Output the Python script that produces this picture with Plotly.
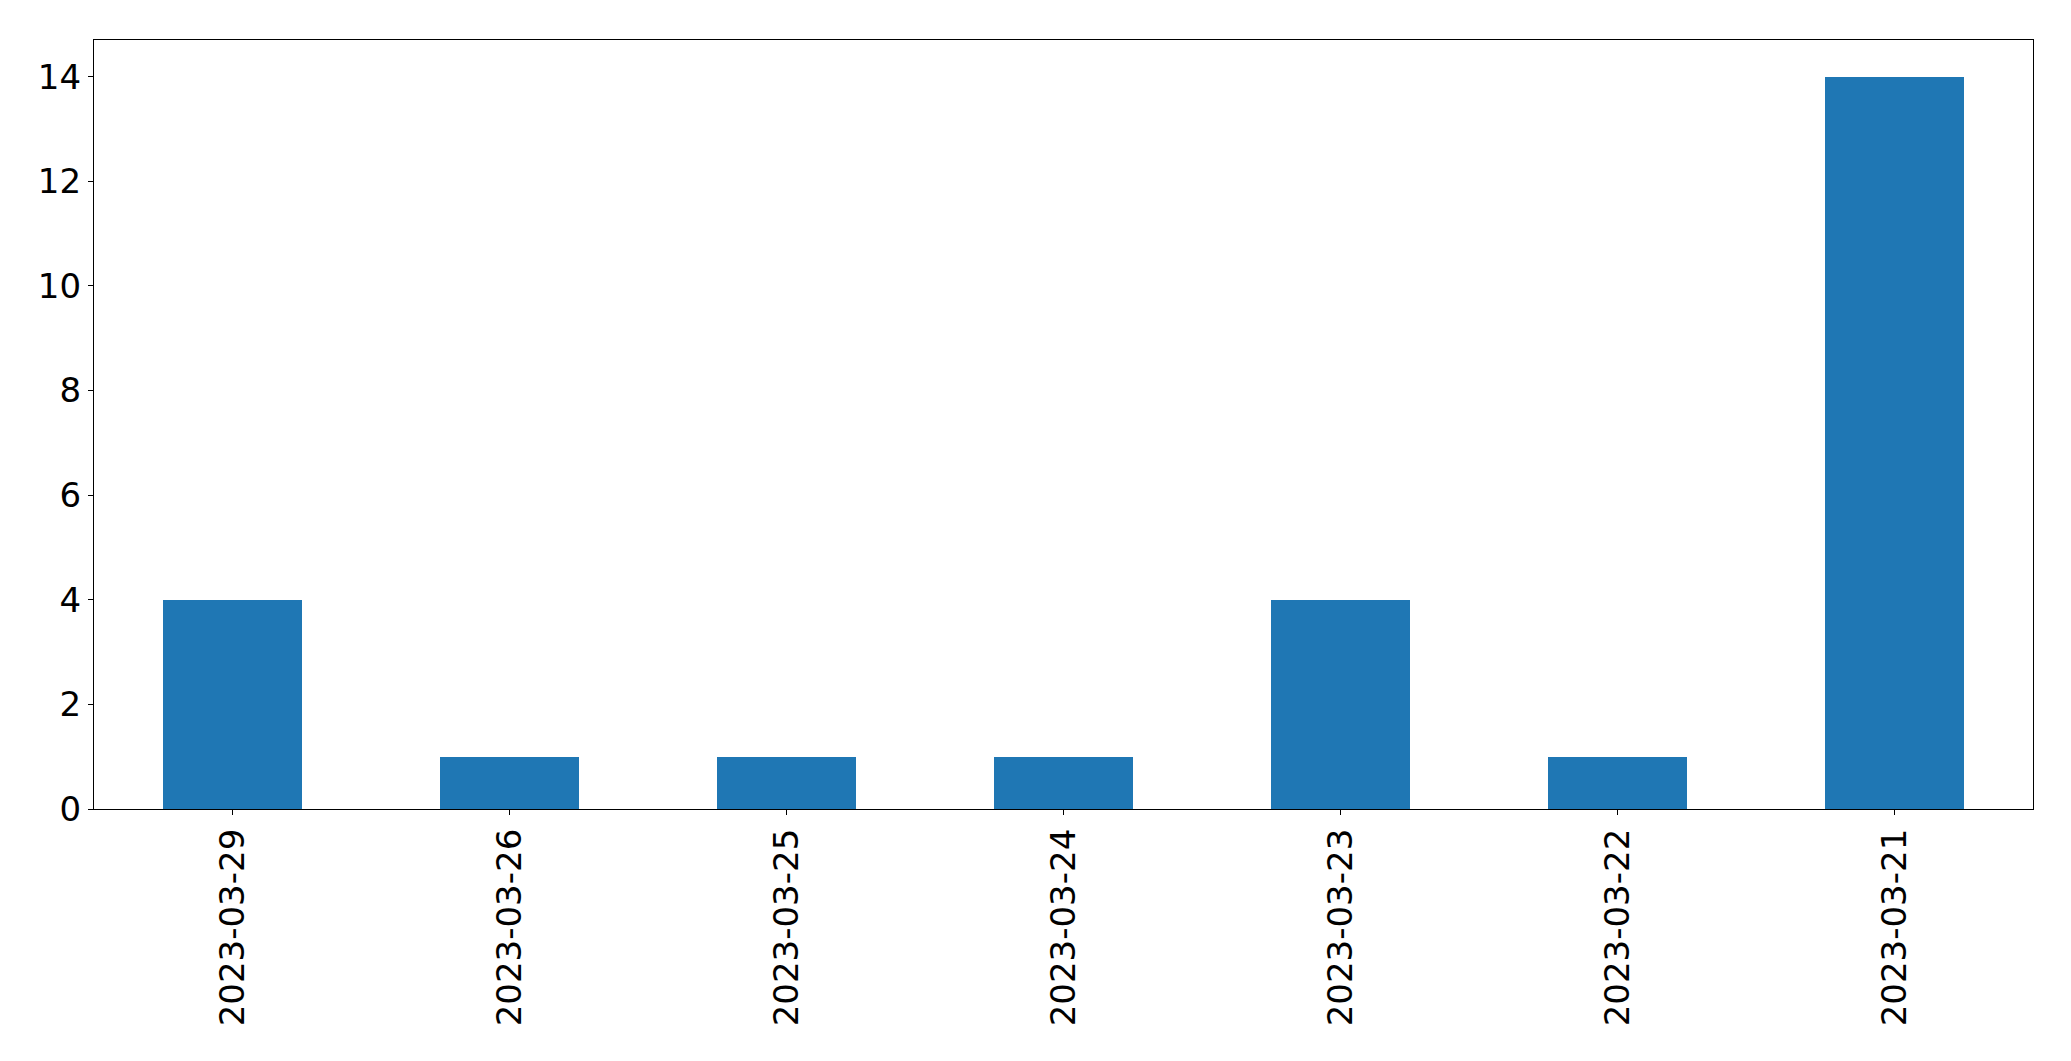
import plotly.graph_objects as go

dates = ["2023-03-29", "2023-03-26", "2023-03-25", "2023-03-24", "2023-03-23", "2023-03-22", "2023-03-21"]
counts = [4, 1, 1, 1, 4, 1, 14]
y_ticks = [0, 2, 4, 6, 8, 10, 12, 14]

fig = go.Figure(go.Bar(x=dates, y=counts, width=0.5, marker=dict(color="#1f77b4", line=dict(width=0))))

font = dict(family="DejaVu Sans", size=34, color="black")
fig.update_layout(
    width=2071, height=1061,
    margin=dict(l=94, r=38, t=40, b=252),
    plot_bgcolor="white", paper_bgcolor="white",
    showlegend=False, bargap=0,
)
fig.update_xaxes(type="category", range=[-0.5, 6.5], tickangle=-90, tickfont=font,
                 showline=True, linecolor="black", linewidth=1.3, mirror=True,
                 ticks="outside", ticklen=5, tickwidth=1.3, tickcolor="black",
                 showgrid=False, zeroline=False)
fig.update_yaxes(range=[0, 14.7], tickvals=y_ticks, tickfont=font,
                 showline=True, linecolor="black", linewidth=1.3, mirror=True,
                 ticks="outside", ticklen=5, tickwidth=1.3, tickcolor="black",
                 showgrid=False, zeroline=False)
fig.write_html("out.html")
